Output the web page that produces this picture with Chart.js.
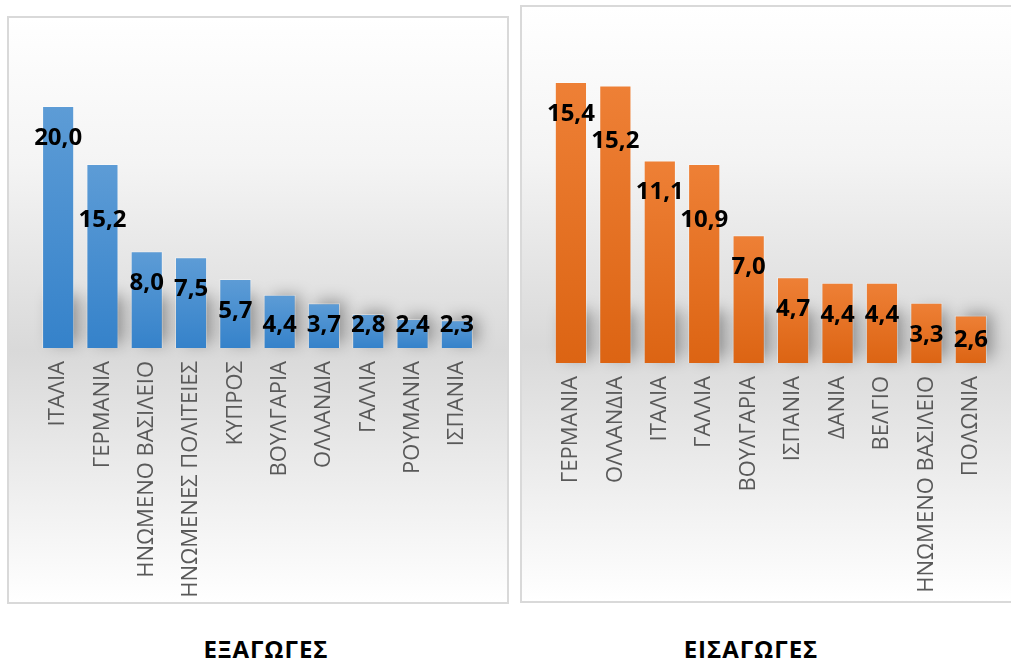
<!DOCTYPE html>
<html>
<head>
<meta charset="utf-8">
<script src="https://cdn.jsdelivr.net/npm/chart.js@4.4.1/dist/chart.umd.min.js"></script>
<style>
  html, body { margin:0; padding:0; background:#fff; width:1011px; height:661px; overflow:hidden; }
  .panel { position:absolute; box-sizing:border-box; border:2px solid #d9d9d9;
           background:linear-gradient(to bottom, #ffffff 0%, #f4f4f4 25%, #d9d9d9 57%, #f2f2f2 85%, #ffffff 100%); }
  .cv { position:absolute; }
  .title { position:absolute; font-family:"Open Sans", sans-serif; font-weight:700; font-size:24px;
           line-height:24px; color:#000; letter-spacing:1px; white-space:nowrap; transform:translateX(-50%); }
</style>
</head>
<body>
<div class="panel" style="left:7px;top:16px;width:502px;height:588px;"></div>
<div class="panel" style="left:520px;top:5px;width:500px;height:598px;border-right:none;"></div>
<div class="cv" style="left:7px;top:16px;width:501px;height:588px;"><canvas id="c1"></canvas></div>
<div class="cv" style="left:520px;top:5px;width:491px;height:598px;"><canvas id="c2"></canvas></div>
<div class="title" style="left:266px;top:637px;">ΕΞΑΓΩΓΕΣ</div>
<div class="title" style="left:751px;top:637px;">ΕΙΣΑΓΩΓΕΣ</div>
<script>
// ---- Data ----
const exportCountries = ["ΙΤΑΛΙΑ","ΓΕΡΜΑΝΙΑ","ΗΝΩΜΕΝΟ ΒΑΣΙΛΕΙΟ","ΗΝΩΜΕΝΕΣ ΠΟΛΙΤΕΙΕΣ","ΚΥΠΡΟΣ","ΒΟΥΛΓΑΡΙΑ","ΟΛΛΑΝΔΙΑ","ΓΑΛΛΙΑ","ΡΟΥΜΑΝΙΑ","ΙΣΠΑΝΙΑ"];
const exportValues = [20.0, 15.2, 8.0, 7.5, 5.7, 4.4, 3.7, 2.8, 2.4, 2.3];
const importCountries = ["ΓΕΡΜΑΝΙΑ","ΟΛΛΑΝΔΙΑ","ΙΤΑΛΙΑ","ΓΑΛΛΙΑ","ΒΟΥΛΓΑΡΙΑ","ΙΣΠΑΝΙΑ","ΔΑΝΙΑ","ΒΕΛΓΙΟ","ΗΝΩΜΕΝΟ ΒΑΣΙΛΕΙΟ","ΠΟΛΩΝΙΑ"];
const importValues = [15.4, 15.2, 11.1, 10.9, 7.0, 4.7, 4.4, 4.4, 3.3, 2.6];

function fmt(v){ return v.toFixed(1).replace('.', ','); }

function barGradient(top, bottom){
  return function(ctx){
    const ch = ctx.chart, y = ch.scales && ch.scales.y;
    if (!y || ctx.dataIndex === undefined) return top;
    const v = ctx.dataset.data[ctx.dataIndex];
    const y0 = y.getPixelForValue(v), y1 = y.getPixelForValue(0);
    if (!isFinite(y0) || !isFinite(y1) || y0 === y1) return top;
    const g = ch.ctx.createLinearGradient(0, y0, 0, y1);
    g.addColorStop(0, top); g.addColorStop(1, bottom);
    return g;
  };
}

const shadowPlugin = {
  id:'barShadow',
  beforeDatasetsDraw(chart){
    const c = chart.ctx, meta = chart.getDatasetMeta(0);
    c.save();
    c.shadowColor = 'rgba(0,0,0,0.35)';
    c.shadowBlur = 16;
    c.shadowOffsetX = 7;
    c.shadowOffsetY = -4;
    c.fillStyle = '#888';
    meta.data.forEach(b => {
      const h = Math.min(b.base - b.y, 50) - 2;
      const w = b.width;
      c.fillRect(b.x - w/2 + 2, b.base - h, w - 4, h - 1);
    });
    c.restore();
  }
};

const labelPlugin = {
  id:'valueLabels',
  afterDatasetsDraw(chart){
    const c = chart.ctx, meta = chart.getDatasetMeta(0), data = chart.data.datasets[0].data;
    c.save();
    c.font = '700 24px "Open Sans", sans-serif';
    c.fillStyle = '#000';
    c.textAlign = 'center';
    c.textBaseline = 'middle';
    let prev = null;
    meta.data.forEach((b, i) => {
      const txt = fmt(data[i]);
      const w = c.measureText(txt).width;
      let y = b.y + 31;
      let shifted = false;
      if (prev && !prev.shifted && (b.x - w/2) - prev.right < 2) { y += 24; shifted = true; }
      y = Math.min(y, b.base - 24);
      c.fillText(txt, b.x, y + 1);
      prev = { right: b.x + w/2, shifted };
    });
    c.restore();
  }
};

function makeChart(id, labels, values, top, bottom, ymax, padTop, padLeft, padRight, axisH){
  return new Chart(document.getElementById(id), {
    type:'bar',
    data:{ labels, datasets:[{ data:values, backgroundColor:barGradient(top,bottom),
      borderColor:'rgba(255,255,255,0.35)', borderWidth:1,
      barPercentage:0.725, categoryPercentage:1.0 }] },
    options:{
      responsive:true, maintainAspectRatio:false, animation:false,
      layout:{ padding:{ top:padTop, left:padLeft, right:padRight, bottom:0 } },
      plugins:{ legend:{display:false}, tooltip:{enabled:false} },
      scales:{
        x:{ grid:{display:false, drawTicks:false}, border:{display:false},
            ticks:{ minRotation:90, maxRotation:90, autoSkip:false, padding:13, color:'#595959',
                    font:{ family:'"Open Sans", sans-serif', size:22, weight:'400' } },
            afterFit(s){ s.height = axisH; } },
        y:{ display:false, min:0, max:ymax }
      }
    },
    plugins:[shadowPlugin, labelPlugin]
  });
}

makeChart('c1', exportCountries, exportValues, '#5d9cd6', '#3582ca', 25, 29.5, 29, 29, 256);
makeChart('c2', importCountries, importValues, '#ee8036', '#dc6413', 18, 29.5, 28.7, 15, 240);
</script>
</body>
</html>
